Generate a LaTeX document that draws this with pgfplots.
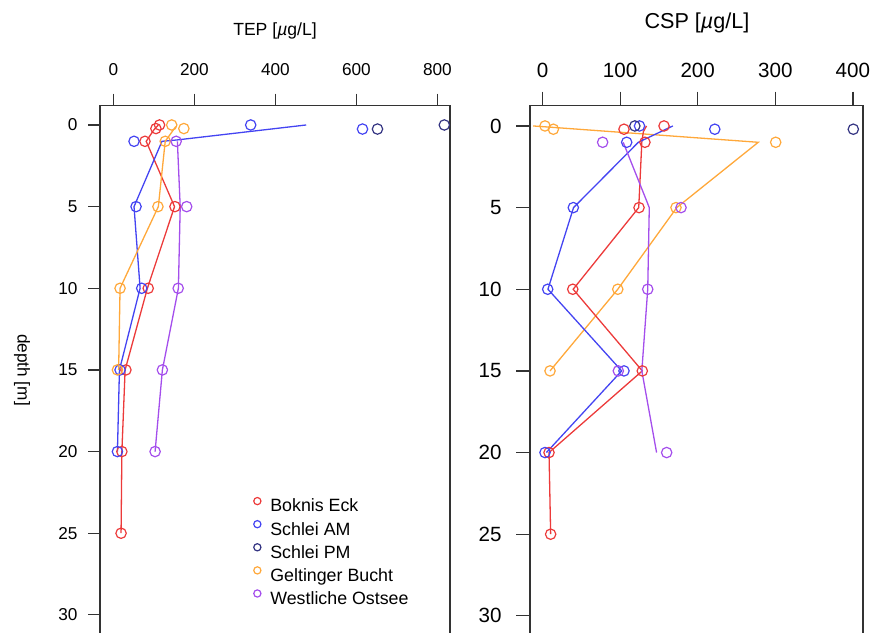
\documentclass[border=0pt]{standalone}
\usepackage{fontspec}
\setmainfont{Liberation Sans}
\usepackage{pgfplots}
\pgfplotsset{compat=1.18}

\definecolor{cRed}{RGB}{236,58,58}
\definecolor{cBlue}{RGB}{68,68,242}
\definecolor{cNavy}{RGB}{52,52,130}
\definecolor{cOrange}{RGB}{255,168,58}
\definecolor{cPurple}{RGB}{164,78,236}

\pgfplotsset{
  depthax/.style={
    scale only axis, y dir=reverse,
    /pgf/number format/assume math mode=true,
    axis line style={black!80, line width=0.65pt},
    tick style={black!80, line width=0.6pt},
    tick align=outside,
    xtick pos=right, xticklabel pos=right,
    ytick pos=left,
    ytick={0,5,10,15,20,25,30},
    clip=false,
  },
  pts/.style={only marks, mark=o, mark size=2.6pt, line width=0.6pt},
  ln/.style={no marks, line width=0.65pt, forget plot},
}

\begin{document}
\begin{tikzpicture}
\useasboundingbox (0,0) rectangle (435.5pt,316pt);
\clip (0,0) rectangle (435.5pt,316pt);

% TEP panel
\begin{axis}[depthax,
  at={(50pt,263.15pt)}, anchor=north west,
  width=175pt, height=267.15pt,
  xmin=-33, xmax=831, ymin=-1.18, ymax=31.54,
  xtick={0,200,400,600,800},
  major tick length=6pt,
  xticklabel style={font=\fontsize{8.6}{10}\selectfont, anchor=south, inner sep=0pt, yshift=8.7pt},
  yticklabel style={font=\fontsize{8.6}{10}\selectfont, anchor=east, inner sep=0pt, xshift=-5.1pt},
  legend style={at={(0.421,0.275)}, anchor=north west, draw=none, fill=none,
    font=\fontsize{8.9}{10}\selectfont, row sep=2.4pt, column sep=4.7pt,
    nodes={inner sep=0pt, text height=6.6pt, text depth=1.9pt, anchor=west}},
  legend image code/.code={\draw[#1, mark size=1.8pt] plot coordinates {(0pt,3.1pt)};},
]
\addplot[pts, cRed] coordinates {(114,0) (105,0.22) (78,1) (152,5) (86,10) (31,15) (21,20) (19,25)};
\addplot[pts, cBlue] coordinates {(339,0) (615,0.25) (51,1) (56,5) (70,10) (16.5,15) (10,20)};
\addplot[pts, cNavy] coordinates {(817,0) (652,0.25)};
\addplot[pts, cOrange] coordinates {(144,0) (174,0.22) (128,1) (110,5) (16.5,10) (10,15)};
\addplot[pts, cPurple] coordinates {(155,1) (181,5) (160,10) (121,15) (103,20)};
\legend{Boknis Eck, Schlei AM, Schlei PM, Geltinger Bucht, Westliche Ostsee}

\addplot[ln, cRed] coordinates {(111,0) (100,0.3) (81,1) (151,5) (84,10) (29,15) (21,20) (19,25)};
\addplot[ln, cBlue] coordinates {(476,0) (156,0.92) (120,1) (51,5) (66,10) (15,15) (10,20)};
\addplot[ln, cOrange] coordinates {(154,0.1) (128,1) (111,5) (16.5,10) (13,15)};
\addplot[ln, cPurple] coordinates {(158,1) (165,5) (160.5,10) (121,15) (103,20)};
\end{axis}

% CSP panel
\begin{axis}[depthax,
  at={(265pt,263.15pt)}, anchor=north west,
  width=166.5pt, height=267.15pt,
  xmin=-16.1, xmax=413, ymin=-1.24, ymax=31.48,
  xtick={0,100,200,300,400},
  major tick length=7pt,
  xticklabel style={font=\fontsize{10.3}{12}\selectfont, anchor=south, inner sep=0pt, yshift=6.8pt},
  yticklabel style={font=\fontsize{10.3}{12}\selectfont, anchor=east, inner sep=0pt, xshift=-7pt},
]
\addplot[pts, cRed] coordinates {(156.6,0) (105,0.2) (132,1) (124.4,5) (39,10) (128.6,15) (8.4,20) (10.5,25)};
\addplot[pts, cBlue] coordinates {(125,0) (222,0.2) (108.5,1) (39.7,5) (6.7,10) (105,15) (3.2,20)};
\addplot[pts, cNavy] coordinates {(119,0) (400.5,0.2)};
\addplot[pts, cOrange] coordinates {(3.2,0) (14,0.2) (300.5,1) (172,5) (97,10) (9.7,15)};
\addplot[pts, cPurple] coordinates {(77.5,1) (178.5,5) (135.6,10) (97.7,15) (160,20)};

\addplot[ln, cOrange] coordinates {(-12,0) (278,1) (173,5) (97,10) (9.7,15)};
\addplot[ln, cRed] coordinates {(134,0) (130,0.35) (128,1) (124,5) (39.5,10) (128.6,15) (8.4,20) (10.5,25)};
\addplot[ln, cBlue] coordinates {(168,0) (123.5,1) (40,5) (7,10) (102,15) (5,20)};
\addplot[ln, cPurple] coordinates {(104,1) (137.6,5) (135.6,10) (128,15) (147,20)};
\end{axis}

\node[font=\fontsize{8.8}{10}\selectfont] at (137.5pt,300.3pt) {TEP [{\itshape µ}g/L]};
\node[font=\fontsize{10.8}{12}\selectfont] at (348.5pt,304.5pt) {CSP [{\itshape µ}g/L]};
\node[font=\fontsize{8.6}{10}\selectfont, rotate=-90] at (11pt,131pt) {depth [m]};
\end{tikzpicture}
\end{document}
